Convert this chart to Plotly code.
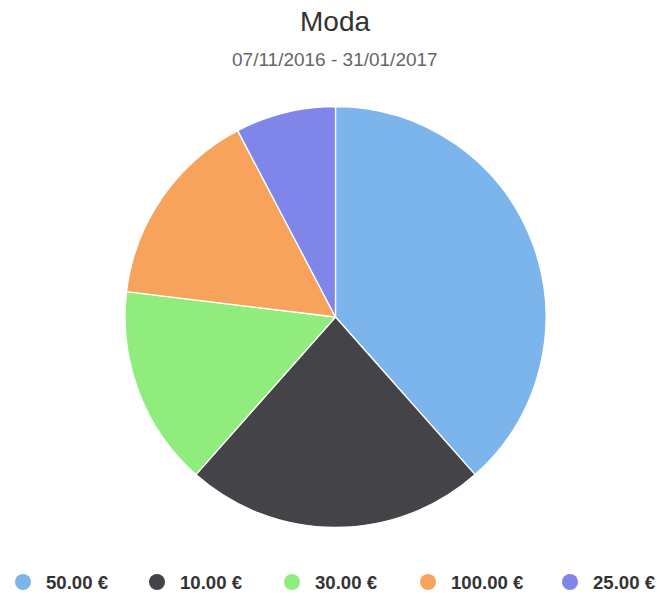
import plotly.graph_objects as go

# ---- data ----
categories = ["50.00 €", "10.00 €", "30.00 €", "100.00 €", "25.00 €"]
values = [5, 3, 2, 2, 1]
colors = ["#7cb5ec", "#434348", "#90ed7d", "#f7a35c", "#8085e9"]
title_text = "Moda"
subtitle_text = "07/11/2016 - 31/01/2017"

W, H = 657, 597
FONT = "Liberation Sans, Arial, sans-serif"

fig = go.Figure()
fig.add_trace(go.Pie(
    labels=categories,
    values=values,
    sort=False,
    direction="clockwise",
    rotation=0,
    textinfo="none",
    marker=dict(colors=colors, line=dict(color="#ffffff", width=1.3)),
    domain=dict(x=[125.0 / W, 546.0 / W], y=[(H - 527.5) / H, (H - 106.5) / H]),
    showlegend=False,
    hoverinfo="label+value",
))

annotations = [
    dict(text=title_text, x=335 / W, y=1 - 21 / H, xref="paper", yref="paper",
         xanchor="center", yanchor="middle", showarrow=False,
         font=dict(family=FONT, size=28, color="#333333")),
    dict(text=subtitle_text, x=335 / W, y=1 - 60 / H, xref="paper", yref="paper",
         xanchor="center", yanchor="middle", showarrow=False,
         font=dict(family=FONT, size=19, color="#666666")),
]
shapes = []

# custom legend with round symbols
circle_x = [23, 157, 292, 428, 570]
legend_y = 582
r = 8
for cx, lab, col in zip(circle_x, categories, colors):
    shapes.append(dict(type="circle", xref="paper", yref="paper",
                       x0=(cx - r) / W, x1=(cx + r) / W,
                       y0=1 - (legend_y + r) / H, y1=1 - (legend_y - r) / H,
                       fillcolor=col, line=dict(width=0)))
    annotations.append(dict(text="<b>%s</b>" % lab, x=(cx + 21) / W, y=1 - legend_y / H,
                            xref="paper", yref="paper", xanchor="left", yanchor="middle",
                            showarrow=False,
                            font=dict(family=FONT, size=18.6, color="#333333")))

fig.update_layout(
    width=W, height=H,
    margin=dict(l=0, r=0, t=0, b=0),
    paper_bgcolor="#ffffff",
    plot_bgcolor="#ffffff",
    annotations=annotations,
    shapes=shapes,
    showlegend=False,
)

fig.write_html("out.html",
               config={"displayModeBar": False},
               post_script="document.body.style.margin='0';document.body.style.padding='0';document.body.style.overflow='hidden';")
